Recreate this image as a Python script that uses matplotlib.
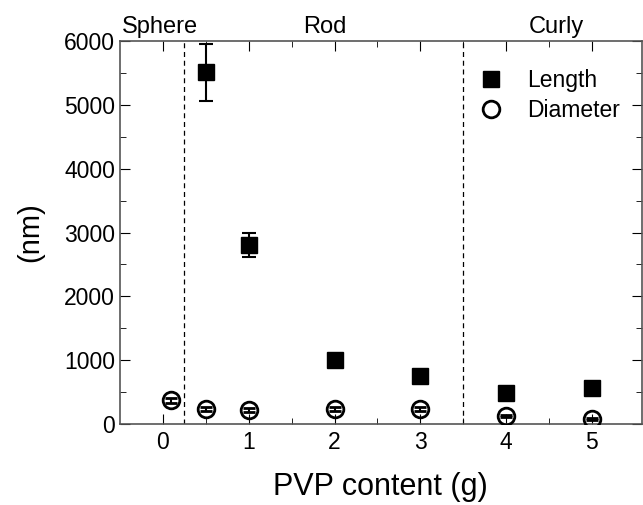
import numpy as np
import matplotlib

matplotlib.use('Agg')
import matplotlib.pyplot as plt
from matplotlib.lines import Line2D

plt.rcParams['font.family'] = ['Liberation Sans', 'DejaVu Sans']

# Length data
len_x = [0.5, 1, 2, 3, 4, 5]
len_y = [5510, 2800, 1000, 750, 480, 560]
len_err = [450, 190, 0, 80, 60, 0]

# Diameter data
dia_x = [0.1, 0.5, 1, 2, 3, 4, 5]
dia_y = [370, 240, 220, 240, 235, 125, 80]
dia_err = [35, 30, 30, 30, 30, 20, 20]

regions = ['Sphere', 'Rod', 'Curly']
region_x = [-0.48, 1.89, 4.59]
boundaries = [0.25, 3.5]

fig = plt.figure(figsize=(6.43, 5.05), dpi=100)
ax = fig.add_axes([0.1866, 0.1604, 0.8114, 0.7584])

ax.errorbar(len_x, len_y, yerr=len_err, fmt='s', color='black', ms=12,
            capsize=5, elinewidth=1.5, capthick=1.5, zorder=3)
ax.errorbar(dia_x, dia_y, yerr=dia_err, fmt='o', color='black', mfc='none',
            mew=2, ms=12, capsize=4, elinewidth=1.5, capthick=1.5, zorder=3)

for b in boundaries:
    ax.axvline(b, color='black', ls='--', lw=0.9, dashes=(4, 3))

for name, xp in zip(regions, region_x):
    ha = 'left' if name == 'Sphere' else 'center'
    ax.text(xp, 6050, name, ha=ha, va='bottom', fontsize=17)

ax.set_xlim(-0.5, 5.58)
ax.set_ylim(0, 6000)
ax.set_xticks([0, 1, 2, 3, 4, 5])
ax.set_xticks(np.arange(0.5, 5.5, 1), minor=True)
ax.set_yticks(np.arange(0, 6001, 1000))
ax.set_yticks(np.arange(500, 6000, 1000), minor=True)
ax.tick_params(which='both', direction='in', top=True, right=True, labelsize=16.5)
ax.tick_params(which='major', length=7)
ax.tick_params(which='minor', length=4)
ax.tick_params(axis='x', pad=5)
for s in ax.spines.values():
    s.set_color('#555555')
    s.set_linewidth(1.2)

ax.set_xlabel('PVP content (g)', fontsize=22, labelpad=13)
ax.set_ylabel('(nm)', fontsize=21, labelpad=14)

handles = [Line2D([], [], marker='s', color='black', ls='none', ms=12),
           Line2D([], [], marker='o', color='black', mfc='none', mew=2, ls='none', ms=12)]
ax.legend(handles, ['Length', 'Diameter'], loc='upper right', frameon=False,
          fontsize=16.5, handletextpad=0.55, labelspacing=0.3,
          borderaxespad=0.0, bbox_to_anchor=(0.975, 0.95))

plt.savefig('out.png', dpi=100)
plt.close()
